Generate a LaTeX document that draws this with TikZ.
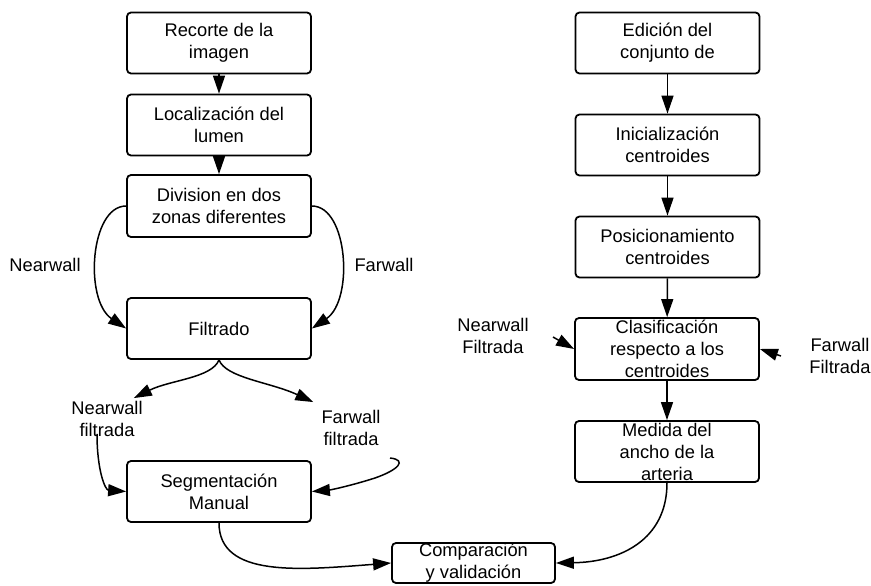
\documentclass[tikz,border=0pt]{standalone}
\usepackage{fontspec}
\setmainfont{Liberation Sans}
\usetikzlibrary{arrows.meta}
\tikzset{
	box/.style={draw, line width=1.8pt, rounded corners=4pt, minimum width=184pt, minimum height=61pt, inner sep=0pt, align=center, font=\fontsize{18.3}{22}\selectfont},
	lbl/.style={inner sep=0pt, align=center, font=\fontsize{18.3}{22}\selectfont},
	arr/.style={line width=1.5pt, -{Triangle[length=18pt,width=12pt]}}
}
\begin{document}
\begin{tikzpicture}[x=1pt, y=-1pt]
			\useasboundingbox (0,0) rectangle (871,586);
			% left column
			\node[box] (rec) at (219,43) {Recorte de la\\imagen};
			\node[box] (loc) at (219,125) {Localización del\\lumen};
			\node[box, minimum height=62pt] (div) at (219,206) {Division en dos\\zonas diferentes};
			\node[box] (fil) at (219,328.5) {Filtrado};
			\node[box] (seg) at (219,491.5) {Segmentación\\Manual};
			\node[box, minimum width=163pt, minimum height=40pt] (comp) at (473.5,563) {Comparación\\y validación};
			% right column
			\node[box] (edi) at (667.5,43) {Edición del\\conjunto de};
			\node[box] (ini) at (667.5,145) {Inicialización\\centroides};
			\node[box] (pos) at (667.5,247) {Posicionamiento\\centroides};
			\node[box, minimum height=62pt] (cla) at (667,349) {Clasificación\\respecto a los\\centroides};
			\node[box] (med) at (667,451.5) {Medida del\\ancho de la\\arteria};
			% labels
			\node[lbl] (nw) at (45,265) {Nearwall};
			\node[lbl] (fw) at (384,265) {Farwall};
			\node[lbl] (nwf) at (107,419) {Nearwall\\filtrada};
			\node[lbl] (fwf) at (351,428) {Farwall\\filtrada};
			\node[lbl] (nwF) at (493,336) {Nearwall\\Filtrada};
			\node[lbl] (fwF) at (840,356) {Farwall\\Filtrada};
			\coordinate (nwin) at (553,337);
			\coordinate (fwin) at (781,356);
			\coordinate (fwhook) at (390,458);
			% connectors
			\draw[arr] (rec) -- (loc);
			\draw[arr] (loc) -- (div);
			\draw[arr] (div.west) .. controls (90,206) and (84,300) .. (fil.west);
			\draw[arr] (div.east) .. controls (348,206) and (354,300) .. (fil.east);
			\draw[arr] (fil.south) .. controls (212,378) and (170,380) .. ([xshift=-9pt,yshift=3pt]nwf.north east);
			\draw[arr] (fil.south) .. controls (226,378) and (270,382) .. ([xshift=-8pt,yshift=8pt]fwf.north west);
			\draw[arr] ([xshift=-10pt,yshift=3pt]nwf.south) .. controls (97,470) and (105,490) .. (seg.west);
			\draw[arr] (fwhook) .. controls (408,460) and (398,470) .. (375,478) .. controls (350,486) and (330,490) .. (seg.east);
			\draw[arr] (seg.south) .. controls (219,578) and (300,570) .. (comp.west);
			\draw[arr] (edi) -- (ini);
			\draw[arr] (ini) -- (pos);
			\draw[arr] (pos) -- (cla);
			\draw[arr] (cla) -- (med);
			\draw[arr] (nwin) -- (cla.west);
			\draw[arr] (fwin) -- (cla.east);
			\draw[arr] (med.south) .. controls (667,540) and (620,562) .. (comp.east);
\end{tikzpicture}
\end{document}
